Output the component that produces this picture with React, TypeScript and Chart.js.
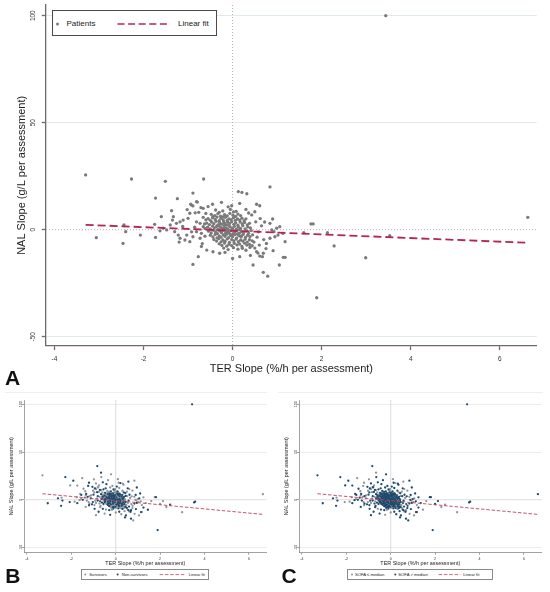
import { useEffect, useRef } from "react";
import { Chart, registerables } from "chart.js";

Chart.register(...registerables);

// each point: [TER slope, NAL slope, died (panel B), SOFA above median (panel C)]
type Pt = [number, number, number, number];

const FONT = "'Liberation Sans', Arial, Helvetica, sans-serif";

const xTicks = [-4, -2, 0, 2, 4, 6];
const yTicks = [-50, 0, 50, 100];

const fitXA = [-3.3, 6.6];
const fitYA = [2.3, -6.1];
const fitXB = [-3.3, 6.6];
const fitYB = [6.3, -15.3];

const outlierPoints: Pt[] = [
  [-3.3, 25.6, 0, 1], [-2.27, 23.7, 1, 1], [-1.51, 22.6, 0, 0], [-0.65, 23.7, 0, 1],
  [-3.06, -3.7, 1, 1], [-2.44, 2.2, 0, 0], [-2.4, -0.9, 1, 1], [-2.46, -6.4, 1, 1],
  [-2.07, -2.5, 1, 0], [1.76, 2.7, 0, 1], [1.81, 2.7, 1, 1], [1.6, -1.4, 0, 0],
  [2.13, -1.4, 0, 1], [2.28, -7.6, 0, 0], [2.99, -13.1, 0, 0], [3.53, -2.8, 1, 1],
  [1.89, -31.8, 1, 1], [3.44, 100.0, 1, 1], [6.63, 5.8, 0, 1],
];

const spreadPoints: Pt[] = [
  [-1.73, 14.8, 0, 1], [-1.24, 14.5, 1, 0], [-0.89, 17.1, 0, 1], [-1.37, 8.9, 0, 0],
  [-0.94, 11.9, 1, 1], [-0.89, 11.1, 0, 0], [-0.79, 12.9, 0, 1], [-0.71, 10.3, 1, 1],
  [-0.66, 10.0, 0, 0], [-0.76, 8.1, 0, 1], [-0.84, 7.9, 1, 0], [-0.81, 13.1, 0, 1],
  [-0.92, 11.5, 0, 0], [-1.33, 6.1, 1, 1], [-1.35, 4.5, 0, 0], [-0.96, 7.7, 0, 1],
  [-1.0, 5.3, 1, 1], [-1.11, 4.5, 0, 0], [-1.18, 3.7, 0, 1], [-1.26, 3.0, 1, 0],
  [-1.18, -4.0, 0, 1], [-1.07, -4.8, 1, 1], [-1.22, -2.5, 0, 0], [-1.3, -0.9, 0, 1],
  [-1.03, -2.5, 1, 0], [-0.96, -5.6, 0, 1], [-0.89, -3.3, 0, 0], [-0.81, -0.9, 1, 1],
  [-0.73, -4.0, 0, 1], [-0.7, -1.7, 1, 0], [-0.66, 1.4, 0, 1], [-0.73, 3.0, 0, 0],
  [-0.81, 3.7, 1, 1], [-1.56, 0.7, 0, 0], [-1.48, -0.1, 1, 1], [-1.6, 6.1, 0, 1],
  [-1.75, 2.5, 0, 0], [-1.73, -3.6, 1, 1], [-1.63, -0.5, 0, 1], [-0.77, -12.6, 1, 1],
  [-0.89, -16.2, 0, 1], [-0.58, -9.5, 1, 0], [-0.44, -10.3, 0, 1], [-0.29, -11.0, 1, 1],
  [-0.17, -10.6, 0, 0], [-0.66, 5.8, 1, 1], [-0.6, 7.6, 0, 0], [-0.68, -6.5, 0, 1],
  [-0.62, -3.0, 1, 1], [-0.85, 1.2, 0, 0], [-0.92, -1.0, 0, 1], [-1.12, 1.5, 1, 0],
  [-1.4, 2.2, 0, 1], [-1.02, 9.4, 0, 0], [-0.55, 10.8, 1, 1], [-0.7, -7.8, 0, 1],
  [-1.2, -5.8, 1, 0], [-0.25, 12.8, 0, 1], [-0.1, 10.7, 1, 1], [-0.02, 11.2, 0, 0],
  [0.16, 12.3, 0, 1], [0.54, 11.9, 1, 1], [0.61, 11.2, 0, 0], [0.13, 17.8, 0, 1],
  [0.21, 17.4, 1, 0], [0.32, 16.8, 0, 1], [0.84, 20.0, 0, 1], [0.43, 6.9, 1, 1],
  [0.5, 8.4, 0, 0], [0.52, 3.7, 0, 1], [0.36, 7.8, 1, 0], [0.3, 9.5, 0, 1],
  [-0.45, 11.9, 1, 1], [0.84, 3.0, 0, 0], [0.9, 5.0, 1, 1], [0.99, 0.7, 0, 1],
  [1.06, 1.4, 1, 0], [0.88, -0.1, 0, 1], [0.93, -0.9, 0, 0], [0.84, -4.0, 1, 1],
  [0.76, -6.4, 0, 1], [0.95, -3.3, 1, 1], [1.02, -2.5, 0, 0], [1.13, -1.7, 0, 1],
  [0.91, -9.8, 1, 1], [1.18, -5.6, 0, 0], [1.14, -12.9, 1, 1], [1.18, -12.9, 0, 1],
  [1.05, -16.5, 0, 0], [0.69, -19.9, 1, 1], [0.79, -21.7, 0, 1], [0.46, -16.5, 1, 1],
  [0.61, -12.3, 0, 0], [0.67, -12.6, 1, 1], [0.4, -12.0, 0, 1], [0.57, -10.9, 1, 1],
  [0.69, -11.0, 1, 0], [0.54, -10.3, 0, 1], [0.16, -12.6, 1, 1], [0.0, -13.4, 0, 0],
  [0.55, -3.5, 0, 1], [0.6, -7.2, 1, 1], [0.65, 1.8, 0, 0], [0.58, -1.0, 1, 1],
  [0.7, -4.6, 0, 1], [0.5, -8.6, 1, 0], [0.72, 3.6, 0, 1], [0.48, -5.8, 0, 0],
  [0.62, 5.2, 1, 1], [0.75, -8.8, 0, 1],
];

const corePoints: Pt[] = [
  [-0.38, 9.2, 0, 1], [-0.22, 8.8, 1, 1], [-0.05, 9.5, 0, 0], [0.08, 8.6, 1, 1], [-0.3, 8.1, 0, 1], [0.02, 8.3, 0, 0],
  [-0.48, 7.2, 1, 1], [-0.4, 6.6, 0, 1], [-0.33, 7.5, 0, 0], [-0.27, 6.3, 1, 1], [-0.18, 7.0, 0, 1], [-0.12, 6.5, 1, 0],
  [-0.06, 7.6, 0, 1], [0.01, 6.8, 0, 1], [0.07, 6.2, 1, 1], [0.12, 7.3, 0, 0], [-0.44, 6.1, 0, 1], [-0.22, 6.0, 1, 1],
  [0.18, 6.6, 0, 1],
  [-0.55, 5.2, 0, 0], [-0.5, 4.4, 1, 1], [-0.45, 5.6, 0, 1], [-0.39, 4.8, 0, 0], [-0.35, 5.9, 1, 1], [-0.3, 4.2, 0, 1],
  [-0.26, 5.3, 1, 1], [-0.21, 4.6, 0, 0], [-0.16, 5.8, 0, 1], [-0.12, 4.3, 1, 1], [-0.08, 5.1, 0, 1], [-0.03, 4.7, 1, 0],
  [0.02, 5.6, 0, 1], [0.06, 4.4, 0, 1], [0.11, 5.0, 1, 1], [0.16, 4.5, 0, 0], [0.21, 5.4, 1, 1], [0.26, 4.2, 0, 1],
  [-0.6, 4.6, 0, 1], [0.3, 5.1, 1, 0],
  [-0.58, 3.1, 1, 1], [-0.52, 2.4, 0, 0], [-0.47, 3.6, 0, 1], [-0.42, 2.8, 1, 1], [-0.37, 3.9, 0, 1], [-0.33, 2.2, 0, 0],
  [-0.29, 3.3, 1, 1], [-0.24, 2.6, 0, 1], [-0.2, 3.8, 1, 1], [-0.15, 2.3, 0, 0], [-0.11, 3.5, 0, 1], [-0.07, 2.9, 1, 1],
  [-0.02, 3.7, 0, 1], [0.03, 2.5, 1, 0], [0.07, 3.2, 0, 1], [0.12, 2.1, 0, 1], [0.17, 3.6, 1, 1], [0.22, 2.7, 0, 0],
  [0.27, 3.4, 1, 1], [0.33, 2.3, 0, 1], [-0.63, 2.7, 0, 0], [0.38, 3.0, 1, 1],
  [-0.56, 1.2, 0, 1], [-0.5, 0.4, 1, 1], [-0.45, 1.7, 0, 0], [-0.41, 0.8, 0, 1], [-0.36, 1.5, 1, 1], [-0.32, 0.2, 0, 1],
  [-0.27, 1.1, 1, 0], [-0.23, 0.5, 0, 1], [-0.19, 1.8, 0, 1], [-0.14, 0.9, 1, 1], [-0.1, 0.1, 0, 0], [-0.06, 1.4, 1, 1],
  [-0.01, 0.7, 0, 1], [0.04, 1.6, 0, 1], [0.08, 0.3, 1, 1], [0.13, 1.2, 0, 0], [0.18, 0.6, 1, 1], [0.23, 1.9, 0, 1],
  [0.28, 0.4, 0, 0], [0.34, 1.3, 1, 1], [0.4, 0.8, 0, 1], [-0.62, 0.6, 1, 0],
  [-0.54, -0.7, 0, 1], [-0.48, -1.5, 1, 1], [-0.43, -0.3, 0, 0], [-0.38, -1.1, 0, 1], [-0.34, -1.8, 1, 1], [-0.29, -0.5, 0, 1],
  [-0.25, -1.3, 1, 0], [-0.2, -0.2, 0, 1], [-0.16, -1.7, 0, 1], [-0.12, -0.8, 1, 1], [-0.08, -1.4, 0, 0], [-0.03, -0.4, 1, 1],
  [0.01, -1.9, 0, 1], [0.05, -1.0, 0, 1], [0.1, -0.3, 1, 1], [0.15, -1.6, 0, 0], [0.2, -0.9, 1, 1], [0.25, -1.2, 0, 1],
  [0.31, -0.6, 0, 0], [0.36, -1.7, 1, 1], [0.42, -0.4, 0, 1],
  [-0.5, -2.6, 1, 1], [-0.44, -3.4, 0, 1], [-0.39, -2.2, 0, 0], [-0.35, -3.8, 1, 1], [-0.3, -2.9, 0, 1], [-0.26, -3.5, 1, 1],
  [-0.21, -2.4, 0, 0], [-0.17, -3.1, 0, 1], [-0.13, -2.1, 1, 1], [-0.09, -3.7, 0, 1], [-0.04, -2.7, 1, 0], [0.0, -3.3, 0, 1],
  [0.05, -2.3, 0, 1], [0.09, -3.9, 1, 1], [0.14, -2.8, 0, 0], [0.19, -3.4, 1, 1], [0.24, -2.2, 0, 1], [0.29, -3.6, 0, 0],
  [0.34, -2.6, 1, 1], [0.39, -3.2, 0, 1], [0.45, -2.4, 1, 1],
  [-0.42, -4.6, 0, 1], [-0.36, -5.3, 1, 1], [-0.31, -4.2, 0, 0], [-0.26, -5.7, 0, 1], [-0.22, -4.8, 1, 1], [-0.17, -5.4, 0, 1],
  [-0.12, -4.3, 1, 0], [-0.07, -5.9, 0, 1], [-0.02, -4.6, 0, 1], [0.03, -5.2, 1, 1], [0.08, -4.4, 0, 0], [0.13, -5.6, 1, 1],
  [0.18, -4.9, 0, 1], [0.23, -5.3, 0, 0], [0.28, -4.5, 1, 1], [0.33, -5.8, 0, 1], [0.38, -4.7, 1, 1], [0.44, -5.2, 0, 0],
  [-0.3, -6.6, 1, 1], [-0.24, -7.3, 0, 1], [-0.18, -6.2, 0, 0], [-0.13, -7.7, 1, 1], [-0.08, -6.8, 0, 1], [-0.02, -7.4, 1, 1],
  [0.04, -6.4, 0, 0], [0.1, -7.1, 0, 1], [0.16, -6.7, 1, 1], [0.21, -7.8, 0, 1], [0.27, -6.3, 1, 0], [0.32, -7.2, 0, 1],
  [0.38, -6.9, 0, 1], [0.44, -7.5, 1, 1],
  [-0.2, -8.6, 0, 1], [-0.1, -9.3, 1, 1], [0.02, -8.4, 0, 0], [0.12, -9.1, 1, 1], [0.22, -8.7, 0, 1], [0.3, -9.6, 1, 0],
  [0.39, -8.3, 0, 1],
  [-0.2, 0.9, 1, 1], [-0.15, -0.3, 0, 1], [-0.09, 2.1, 1, 1], [-0.05, -2.3, 0, 0], [0.0, 0.2, 1, 1], [-0.25, -0.9, 0, 1],
  [-0.31, 1.9, 1, 1], [0.06, -0.7, 0, 1], [-0.18, 3.0, 1, 0], [-0.11, -1.1, 0, 1], [0.11, -2.0, 1, 1], [-0.35, -0.1, 0, 1],
  [0.16, 0.1, 1, 1], [-0.28, 2.7, 0, 0], [0.2, -2.9, 1, 1],
];

// extra assessments only seen in panels B and C
const extraAssessments: Pt[] = [
  [-0.83, 35.3, 1, 1], [-0.66, 28.3, 1, 0], [-0.21, 26.6, 0, 1], [-0.98, 21.4, 0, 0],
  [-1.91, 19.9, 1, 1], [-2.05, 15.0, 0, 1], [-1.2, 17.8, 1, 0], [-0.35, 20.5, 0, 1],
  [-0.58, 18.2, 1, 1], [0.1, 21.5, 0, 0], [-0.42, 16.3, 1, 1], [0.35, 15.6, 0, 1],
  [0.57, 18.9, 1, 0], [-1.45, 11.5, 0, 1], [-1.55, 5.0, 1, 1], [-1.85, -2.0, 0, 0],
  [-2.6, 1.5, 1, 1], [-1.35, -7.5, 0, 1], [-0.95, -9.5, 1, 1], [-0.5, -14.5, 0, 1],
  [-0.25, -15.8, 1, 0], [0.25, -15.2, 0, 1], [0.42, -18.5, 1, 1], [0.85, -14.8, 0, 0],
  [1.25, -8.2, 1, 1], [1.35, -3.5, 0, 1], [1.45, -10.5, 1, 0], [1.25, 2.5, 0, 1],
  [1.1, 6.5, 1, 1], [0.75, 9.5, 0, 0], [0.95, 12.8, 1, 1], [-0.15, 14.5, 0, 1],
  [0.05, 13.8, 1, 1], [-0.75, 15.0, 0, 0], [-1.05, 13.5, 1, 1], [2.0, -4.5, 0, 1],
  [2.45, -5.2, 1, 0], [3.58, -2.0, 1, 1], [-0.3, 3.5, 1, 1], [0.1, -4.5, 1, 1],
  [-0.2, -6.0, 0, 1], [0.3, 1.0, 1, 1], [-0.45, 0.5, 1, 0], [0.15, 6.0, 1, 1],
  [-0.1, -8.0, 1, 1], [0.35, -9.0, 0, 1], [-0.55, -4.5, 1, 1], [0.45, 4.0, 1, 0],
];

const patientPoints = [...outlierPoints, ...spreadPoints, ...corePoints];
const assessmentPoints = [...patientPoints, ...extraAssessments];

interface Geo {
  width: number;
  height: number;
  area: { left: number; top: number; right: number; bottom: number };
  x: [number, number];
  y: [number, number];
  tickSize: number;
  titleSize: number;
  tickLen: number;
  xTickPad: number;
  yTickPad: number;
  yTitlePad: number;
  xTitlePad: number;
  axisColor: string;
  axisWidth: number;
  gridColor: string;
}

const geoA: Geo = {
  width: 550, height: 392,
  area: { left: 46, top: 5, right: 536.7, bottom: 345.7 },
  x: [-4.19, 6.83], y: [-54.2, 105],
  tickSize: 6.5, titleSize: 11, tickLen: 4.3,
  xTickPad: 5, yTickPad: 3, yTitlePad: 15.1, xTitlePad: 16.1,
  axisColor: "#6b6b6b", axisWidth: 1.3, gridColor: "#e0e9ec",
};

const geoB: Geo = {
  width: 275, height: 200,
  area: { left: 24, top: 8, right: 266.7, bottom: 160.5 },
  x: [-4.13, 6.8], y: [-55.3, 104.5],
  tickSize: 3.6, titleSize: 5.4, tickLen: 2.2,
  xTickPad: 1.7, yTickPad: -1.9, yTitlePad: 8.5, xTitlePad: 24.8,
  axisColor: "#7a7a7a", axisWidth: 0.7, gridColor: "#ececec",
};

const zeroLines = {
  id: "zeroLines",
  beforeDatasetsDraw(chart: any, _args: any, opts: any) {
    const { ctx, chartArea: a, scales } = chart;
    const px = scales.x.getPixelForValue(0);
    const py = scales.y.getPixelForValue(0);
    ctx.save();
    ctx.strokeStyle = opts.color;
    ctx.lineWidth = opts.width;
    ctx.setLineDash(opts.dash || []);
    ctx.beginPath();
    ctx.moveTo(px, a.top);
    ctx.lineTo(px, a.bottom);
    ctx.moveTo(a.left, py);
    ctx.lineTo(a.right, py);
    ctx.stroke();
    ctx.restore();
  },
};

function makeConfig(geo: Geo, datasets: any[], zero: any): any {
  const tickFont = { family: FONT, size: geo.tickSize };
  const titleFont = { family: FONT, size: geo.titleSize };
  return {
    type: "scatter",
    data: { datasets },
    plugins: [zeroLines],
    options: {
      animation: false,
      responsive: false,
      events: [],
      layout: {
        padding: { left: 0, top: geo.area.top, right: geo.width - geo.area.right, bottom: 0 },
      },
      plugins: {
        legend: { display: false },
        tooltip: { enabled: false },
        zeroLines: zero,
      },
      scales: {
        x: {
          type: "linear",
          min: geo.x[0],
          max: geo.x[1],
          afterBuildTicks: (s: any) => {
            s.ticks = xTicks.map((value) => ({ value }));
          },
          afterFit: (s: any) => {
            s.height = geo.height - geo.area.bottom;
            s.paddingLeft = 0;
            s.paddingRight = 0;
          },
          grid: {
            drawOnChartArea: false,
            drawTicks: true,
            tickLength: geo.tickLen,
            tickColor: geo.axisColor,
            tickWidth: geo.axisWidth,
          },
          border: { display: true, color: geo.axisColor, width: geo.axisWidth },
          ticks: {
            font: tickFont,
            color: "#333",
            padding: geo.xTickPad,
            minRotation: 0,
            maxRotation: 0,
            autoSkip: false,
            callback: (v: any) => String(v),
          },
          title: {
            display: true,
            text: "TER Slope (%/h per assessment)",
            font: titleFont,
            color: "#222",
            padding: { top: 0, bottom: geo.xTitlePad },
          },
        },
        y: {
          type: "linear",
          min: geo.y[0],
          max: geo.y[1],
          afterBuildTicks: (s: any) => {
            s.ticks = yTicks.map((value) => ({ value }));
          },
          afterFit: (s: any) => {
            s.width = geo.area.left;
            s.paddingTop = 0;
            s.paddingBottom = 0;
          },
          grid: {
            color: (c: any) => (c.tick && c.tick.value === 0 ? "rgba(0,0,0,0)" : geo.gridColor),
            lineWidth: 1,
            drawTicks: true,
            tickLength: geo.tickLen,
            tickColor: geo.axisColor,
            tickWidth: geo.axisWidth,
          },
          border: { display: true, color: geo.axisColor, width: geo.axisWidth },
          ticks: {
            font: tickFont,
            color: "#333",
            padding: geo.yTickPad,
            minRotation: 90,
            maxRotation: 90,
            crossAlign: "center",
            autoSkip: false,
            callback: (v: any) => String(v),
          },
          title: {
            display: true,
            text: "NAL Slope (g/L per assessment)",
            font: titleFont,
            color: "#222",
            padding: { top: geo.yTitlePad, bottom: 0 },
          },
        },
      },
    },
  };
}

const toXY = (pts: Pt[]) => pts.map((p) => ({ x: p[0], y: p[1] }));
const fitData = (xs: number[], ys: number[]) => xs.map((x, i) => ({ x, y: ys[i] }));

function configA() {
  return makeConfig(
    geoA,
    [
      {
        label: "Linear fit",
        data: fitData(fitXA, fitYA),
        showLine: true,
        borderColor: "#b5264f",
        borderWidth: 1.8,
        borderDash: [8, 4],
        pointRadius: 0,
      },
      {
        label: "Patients",
        data: toXY(patientPoints),
        backgroundColor: "#7a7a7a",
        pointRadius: 1.65,
        borderWidth: 0,
      },
    ],
    { color: "#b8aeb2", width: 1, dash: [1, 2] }
  );
}

function configSplit(flag: number, labels: [string, string]) {
  return () =>
    makeConfig(
      geoB,
      [
        {
          label: "Linear fit",
          data: fitData(fitXB, fitYB),
          showLine: true,
          borderColor: "#c0435f",
          borderWidth: 0.9,
          borderDash: [3.5, 1.8],
          pointRadius: 0,
        },
        {
          label: labels[1],
          data: toXY(assessmentPoints.filter((p) => p[flag] === 1)),
          backgroundColor: "#1e4a6d",
          pointRadius: 1.15,
          borderWidth: 0,
        },
        {
          label: labels[0],
          data: toXY(assessmentPoints.filter((p) => p[flag] === 0)),
          backgroundColor: "#8f959a",
          pointRadius: 1.15,
          borderWidth: 0,
        },
      ],
      { color: "#d4d4d4", width: 0.8, dash: [] }
    );
}

const configB = configSplit(2, ["Survivors", "Non-survivors"]);
const configC = configSplit(3, ["SOFA \u2264 median", "SOFA > median"]);

function PanelChart({ left, top, geo, build }: { left: number; top: number; geo: Geo; build: () => any }) {
  const ref = useRef<HTMLCanvasElement>(null);
  useEffect(() => {
    if (!ref.current) return;
    const chart = new Chart(ref.current, build());
    return () => chart.destroy();
  }, [build]);
  return (
    <canvas
      ref={ref}
      width={geo.width}
      height={geo.height}
      style={{ position: "absolute", left, top, width: geo.width, height: geo.height }}
    />
  );
}

interface LegendItem {
  kind: "dot" | "dash";
  x: number;
  x2?: number;
  color: string;
  text?: string;
  textX?: number;
}

function Legend(props: {
  left: number; top: number; width: number; height: number; cy: number;
  fontSize: number; dot: number; dashW: number; dash: string; border: string; items: LegendItem[];
}) {
  const { left, top, width, height, cy, fontSize, dot, dashW, dash, border, items } = props;
  return (
    <div
      style={{
        position: "absolute", left, top, width, height, border, boxSizing: "border-box",
        background: "#fff", fontFamily: FONT, color: "#222",
      }}
    >
      <svg width={width} height={height} style={{ position: "absolute", left: -1, top: -1 }}>
        {items.map((it, i) =>
          it.kind === "dot" ? (
            <circle key={i} cx={it.x} cy={cy} r={dot} fill={it.color} />
          ) : (
            <line key={i} x1={it.x} x2={it.x2} y1={cy} y2={cy} stroke={it.color} strokeWidth={dashW} strokeDasharray={dash} />
          )
        )}
      </svg>
      {items.map((it, i) =>
        it.text ? (
          <span
            key={"t" + i}
            style={{
              position: "absolute", left: (it.textX as number) - 1, top: cy - 1 - fontSize * 0.6,
              fontSize, lineHeight: `${fontSize * 1.2}px`, whiteSpace: "nowrap",
            }}
          >
            {it.text}
          </span>
        ) : null
      )}
    </div>
  );
}

function Letter({ left, top, text }: { left: number; top: number; text: string }) {
  return (
    <div
      style={{
        position: "absolute", left, top, fontFamily: FONT, fontWeight: "bold",
        fontSize: 21, lineHeight: "21px", color: "#111",
      }}
    >
      {text}
    </div>
  );
}

export default function App() {
  return (
    <div style={{ position: "absolute", left: 0, top: 0, width: 550, height: 592, background: "#fff", overflow: "hidden" }}>
      <PanelChart left={0} top={0} geo={geoA} build={configA} />
      <PanelChart left={0} top={392} geo={geoB} build={configB} />
      <PanelChart left={275} top={392} geo={geoB} build={configC} />

      <div style={{ position: "absolute", left: 5, top: 391.5, width: 262, height: 0, borderTop: "1px solid #eeeeee" }} />
      <div style={{ position: "absolute", left: 278, top: 391.5, width: 265, height: 0, borderTop: "1px solid #eeeeee" }} />

      <Legend
        left={51.5} top={10} width={165.8} height={25.7} cy={14} fontSize={8} dot={1.5}
        dashW={1.6} dash="7 3.6" border="1px solid #4a4a4a"
        items={[
          { kind: "dot", x: 5.5, color: "#7a7a7a", text: "Patients", textX: 15 },
          { kind: "dash", x: 65.5, x2: 118.5, color: "#b5264f", text: "Linear fit", textX: 126.5 },
        ]}
      />
      <Legend
        left={80.7} top={569.3} width={128.6} height={10.7} cy={5.6} fontSize={4.2} dot={1}
        dashW={0.8} dash="3.5 1.8" border="0.7px solid #8a8a8a"
        items={[
          { kind: "dot", x: 4.3, color: "#8f959a", text: "Survivors", textX: 8.6 },
          { kind: "dot", x: 36.6, color: "#1e4a6d", text: "Non-survivors", textX: 41 },
          { kind: "dash", x: 78.6, x2: 104.6, color: "#c0435f", text: "Linear fit", textX: 108 },
        ]}
      />
      <Legend
        left={346.7} top={569.3} width={146.6} height={10.7} cy={5.6} fontSize={4.2} dot={1}
        dashW={0.8} dash="3.5 1.8" border="0.7px solid #8a8a8a"
        items={[
          { kind: "dot", x: 5, color: "#8f959a", text: "SOFA \u2264 median", textX: 8.3 },
          { kind: "dot", x: 48.3, color: "#1e4a6d", text: "SOFA > median", textX: 51.6 },
          { kind: "dash", x: 91.6, x2: 113.3, color: "#c0435f", text: "Linear fit", textX: 116.6 },
        ]}
      />

      <Letter left={5} top={367} text="A" />
      <Letter left={5.2} top={565.2} text="B" />
      <Letter left={281.5} top={565.2} text="C" />
    </div>
  );
}
